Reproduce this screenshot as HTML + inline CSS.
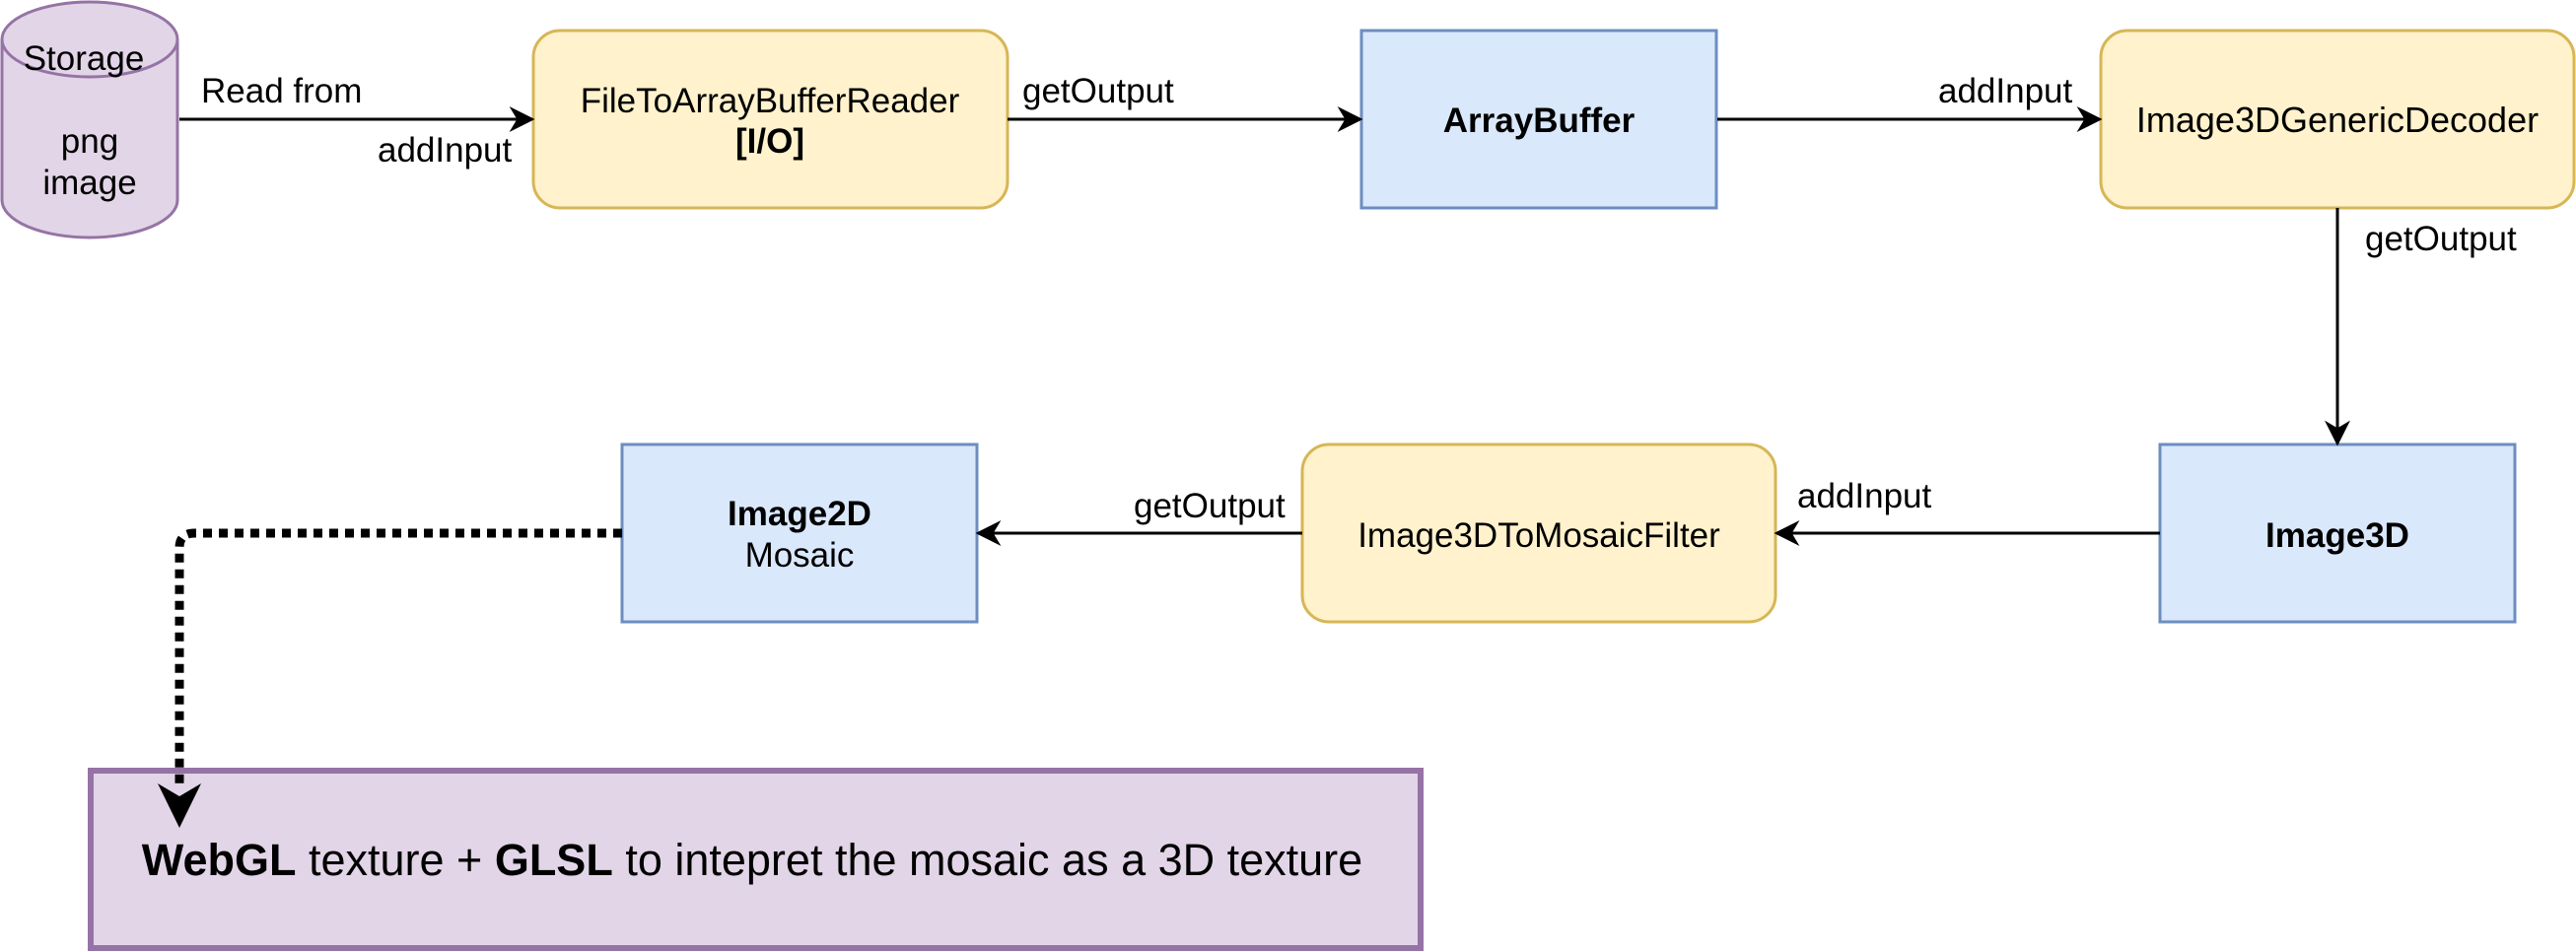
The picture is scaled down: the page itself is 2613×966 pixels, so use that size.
<!DOCTYPE html>
<html><head><meta charset="utf-8"><style>
html,body{margin:0;padding:0;background:#fff;}
svg{display:block;}
text{font-family:"Liberation Sans",Arial,sans-serif;fill:#000;}
</style></head><body>
<svg width="2613" height="966" viewBox="0 0 2613 966" xmlns="http://www.w3.org/2000/svg">
<defs>
<marker id="a" viewBox="0 0 20 20" refX="18" refY="10" markerWidth="26" markerHeight="26" markerUnits="userSpaceOnUse" orient="auto">
<path d="M0,0 L20,10 L0,20 L6,10 Z" fill="#000"/>
</marker>
</defs>
<!-- cylinder -->
<path d="M2,40 A89,38 0 0 1 180,40 L180,203 A89,38 0 0 1 2,203 Z" fill="#e1d5e7" stroke="#9673a6" stroke-width="3"/>
<path d="M2,40 A89,38 0 0 0 180,40" fill="none" stroke="#9673a6" stroke-width="3"/>
<text x="85" y="71" font-size="35" text-anchor="middle">Storage</text>
<text x="91" y="155" font-size="35" text-anchor="middle">png</text>
<text x="91" y="197" font-size="35" text-anchor="middle">image</text>

<!-- boxes -->
<rect x="541" y="31" width="481" height="180" rx="27" fill="#fff2cc" stroke="#d6b656" stroke-width="3"/>
<text x="781" y="114" font-size="35" text-anchor="middle">FileToArrayBufferReader</text>
<text x="781" y="155" font-size="35" font-weight="bold" text-anchor="middle">[I/O]</text>

<rect x="1381" y="31" width="360" height="180" fill="#dae8fc" stroke="#6c8ebf" stroke-width="3"/>
<text x="1561" y="134" font-size="35" font-weight="bold" text-anchor="middle">ArrayBuffer</text>

<rect x="2131" y="31" width="480" height="180" rx="27" fill="#fff2cc" stroke="#d6b656" stroke-width="3"/>
<text x="2371" y="134" font-size="36" text-anchor="middle">Image3DGenericDecoder</text>

<rect x="2191" y="451" width="360" height="180" fill="#dae8fc" stroke="#6c8ebf" stroke-width="3"/>
<text x="2371" y="555" font-size="35" font-weight="bold" text-anchor="middle">Image3D</text>

<rect x="1321" y="451" width="480" height="180" rx="27" fill="#fff2cc" stroke="#d6b656" stroke-width="3"/>
<text x="1561" y="555" font-size="35" text-anchor="middle">Image3DToMosaicFilter</text>

<rect x="631" y="451" width="360" height="180" fill="#dae8fc" stroke="#6c8ebf" stroke-width="3"/>
<text x="811" y="533" font-size="35" font-weight="bold" text-anchor="middle">Image2D</text>
<text x="811" y="575" font-size="35" text-anchor="middle">Mosaic</text>

<rect x="92" y="782" width="1349" height="180" fill="#e1d5e7" stroke="#9673a6" stroke-width="6"/>
<text x="763" y="888" font-size="45" text-anchor="middle"><tspan font-weight="bold">WebGL</tspan> texture + <tspan font-weight="bold">GLSL</tspan> to intepret the mosaic as a 3D texture</text>

<!-- connectors -->
<g stroke="#000" stroke-width="3" fill="none">
<line x1="182" y1="121" x2="540" y2="121" marker-end="url(#a)"/>
<line x1="1022" y1="121" x2="1380" y2="121" marker-end="url(#a)"/>
<line x1="1742" y1="121" x2="2130" y2="121" marker-end="url(#a)"/>
<line x1="2371" y1="211" x2="2371" y2="450" marker-end="url(#a)"/>
<line x1="2191" y1="541" x2="1802" y2="541" marker-end="url(#a)"/>
<line x1="1321" y1="541" x2="992" y2="541" marker-end="url(#a)"/>
</g>
<path d="M631,541 L197,541 Q182,541 182,556 L182,800" stroke="#000" stroke-width="9" stroke-dasharray="9 7" fill="none"/>
<path d="M160,795 L182,840 L204,795 L182,808 Z" fill="#000"/>

<!-- labels -->
<text x="204" y="104" font-size="35">Read from</text>
<text x="383" y="164" font-size="35">addInput</text>
<text x="1037" y="104" font-size="35">getOutput</text>
<text x="1966" y="104" font-size="35">addInput</text>
<text x="2399" y="254" font-size="35">getOutput</text>
<text x="1823" y="515" font-size="35">addInput</text>
<text x="1150" y="525" font-size="35">getOutput</text>
</svg>
</body></html>
